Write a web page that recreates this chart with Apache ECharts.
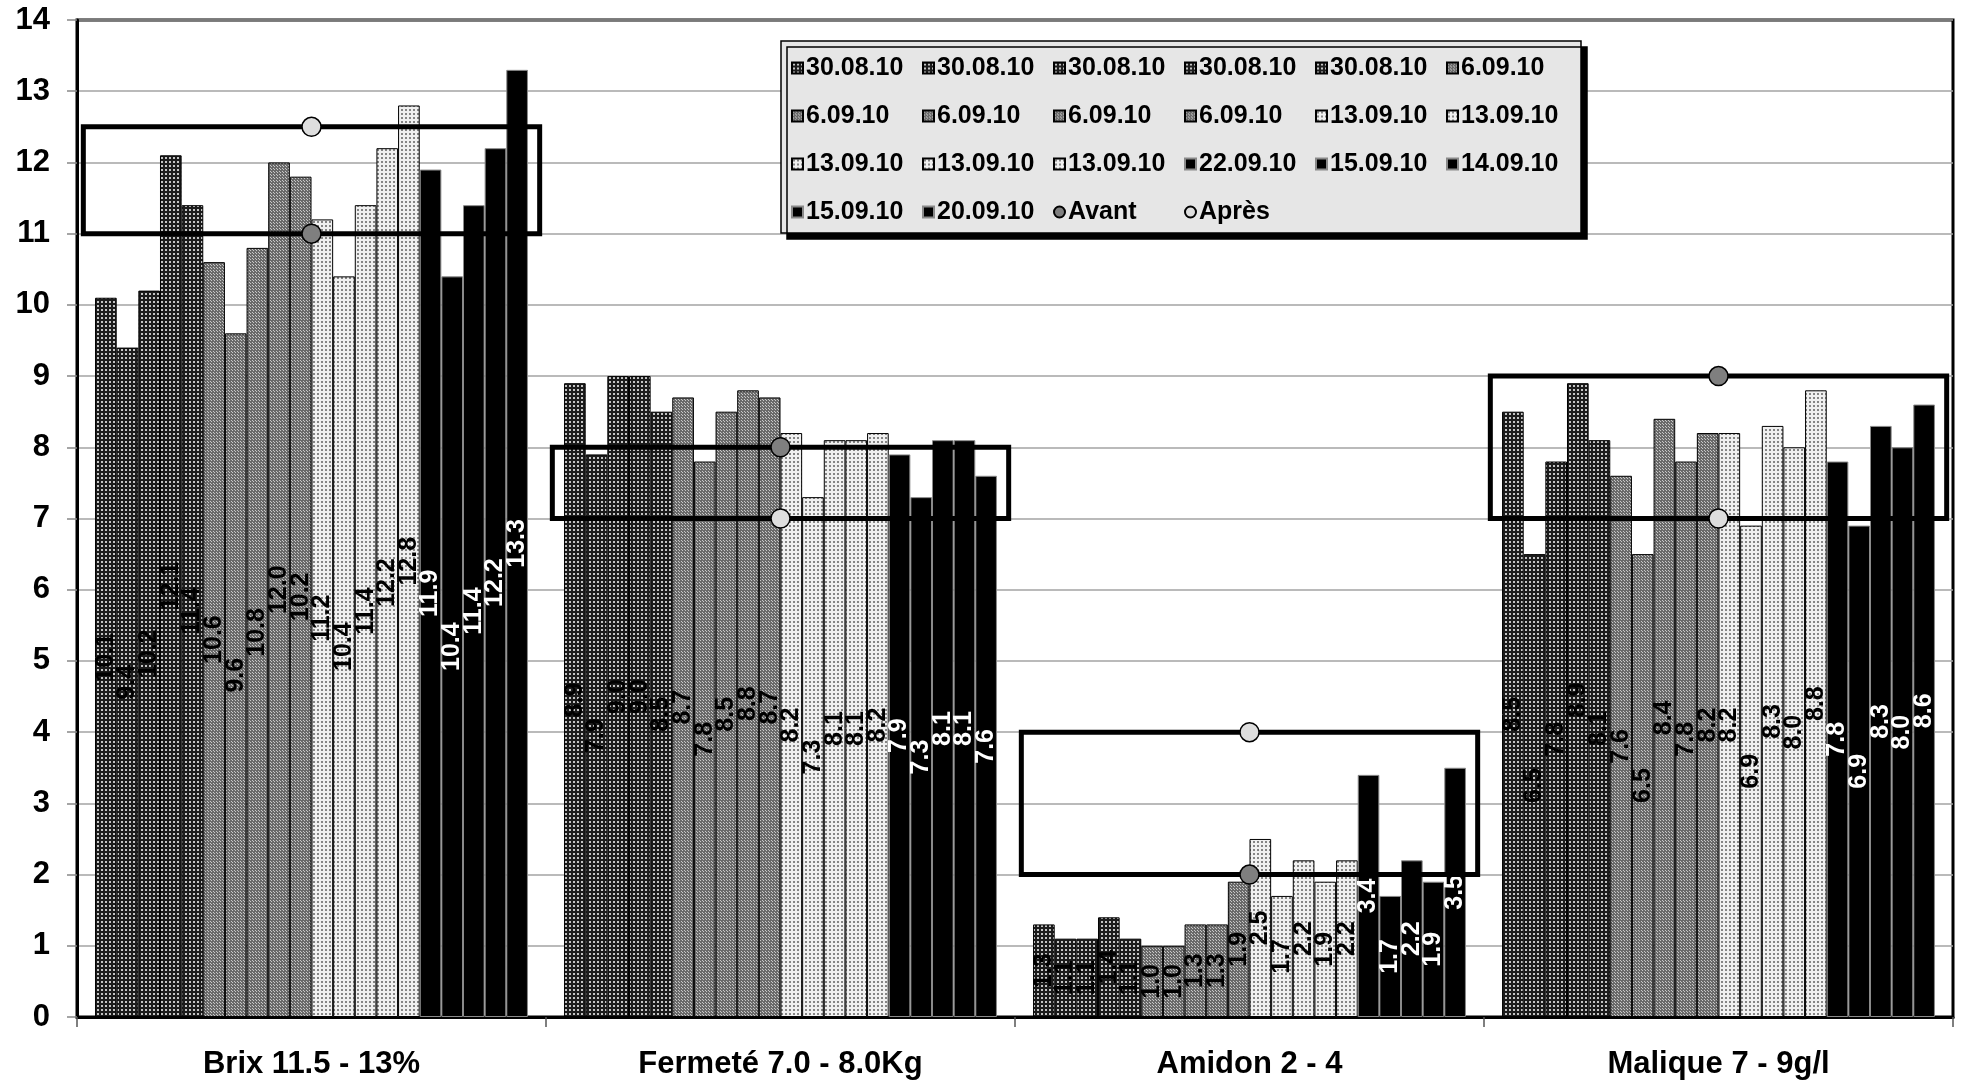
<!DOCTYPE html>
<html>
<head>
<meta charset="utf-8">
<script src="https://cdn.jsdelivr.net/npm/echarts@6/dist/echarts.min.js"></script>
<style>
html,body{margin:0;padding:0;background:#fff;}
#chart{width:1963px;height:1085px;}
</style>
</head>
<body>
<div id="chart"></div>
<script>
const categories = ['Brix 11.5 - 13%', 'Fermeté 7.0 - 8.0Kg', 'Amidon 2 - 4', 'Malique 7 - 9g/l'];
const yTicks = [0, 14, 1];

const seriesNames = [
  '30.08.10', '30.08.10', '30.08.10', '30.08.10', '30.08.10',
  '6.09.10', '6.09.10', '6.09.10', '6.09.10', '6.09.10',
  '13.09.10', '13.09.10', '13.09.10', '13.09.10', '13.09.10',
  '22.09.10', '15.09.10', '14.09.10', '15.09.10', '20.09.10'
];
// values per series: [Brix, Fermeté, Amidon, Malique]
const s01 = [10.1, 8.9, 1.3, 8.5];
const s02 = [9.4, 7.9, 1.1, 6.5];
const s03 = [10.2, 9.0, 1.1, 7.8];
const s04 = [12.1, 9.0, 1.4, 8.9];
const s05 = [11.4, 8.5, 1.1, 8.1];
const s06 = [10.6, 8.7, 1.0, 7.6];
const s07 = [9.6, 7.8, 1.0, 6.5];
const s08 = [10.8, 8.5, 1.3, 8.4];
const s09 = [12.0, 8.8, 1.3, 7.8];
const s10 = [11.8, 8.7, 1.9, 8.2];
const s11 = [11.2, 8.2, 2.5, 8.2];
const s12 = [10.4, 7.3, 1.7, 6.9];
const s13 = [11.4, 8.1, 2.2, 8.3];
const s14 = [12.2, 8.1, 1.9, 8.0];
const s15 = [12.8, 8.2, 2.2, 8.8];
const s16 = [11.9, 7.9, 3.4, 7.8];
const s17 = [10.4, 7.3, 1.7, 6.9];
const s18 = [11.4, 8.1, 2.2, 8.3];
const s19 = [12.2, 8.1, 1.9, 8.0];
const s20 = [13.3, 7.6, 3.5, 8.6];
const seriesValues = [s01,s02,s03,s04,s05,s06,s07,s08,s09,s10,s11,s12,s13,s14,s15,s16,s17,s18,s19,s20];
// data label texts that differ from the bar value in the reference (series index, category index)
const labelOverrides = [[9, 0, '10.2']];

const avant = [11, 8, 2, 9];
const apres = [12.5, 7, 4, 7];

const FONT = "'Liberation Sans', Arial, sans-serif";

function dotPattern(bg, dot, size, dotSize, off) {
  const c = document.createElement('canvas');
  c.width = size; c.height = size;
  const ctx = c.getContext('2d');
  ctx.fillStyle = bg; ctx.fillRect(0, 0, size, size);
  ctx.fillStyle = dot; ctx.fillRect(off, off, dotSize, dotSize);
  return {image: c, repeat: 'repeat'};
}
function checkerPattern(a, b) {
  const c = document.createElement('canvas');
  c.width = 3; c.height = 3;
  const ctx = c.getContext('2d');
  ctx.fillStyle = a; ctx.fillRect(0, 0, 3, 3);
  ctx.fillStyle = b; ctx.fillRect(1, 1, 1, 1); ctx.fillRect(0, 0, 1, 1);
  return {image: c, repeat: 'repeat'};
}
const fills = [
  dotPattern('#1c1c1c', '#c4c4c4', 4, 2, 1),
  checkerPattern('#6a6a6a', '#c8c8c8'),
  dotPattern('#f0f0f0', '#858585', 4, 2, 1),
  '#000000'
];

const uniq = (name, i) => name + '#' + i;

const series = seriesValues.map((vals, i) => {
  const grp = Math.floor(i / 5);
  const isBlack = grp === 3;
  const data = vals.map((v, ci) => {
    const ov = labelOverrides.find(o => o[0] === i && o[1] === ci);
    return ov ? {value: v, label: {formatter: ov[2]}} : v;
  });
  return {
    type: 'bar',
    name: uniq(seriesNames[i], i),
    data: data,
    barGap: '0%',
    barCategoryGap: '7.7%',
    z: 2,
    itemStyle: {
      color: fills[grp],
      borderColor: isBlack ? '#8a8a8a' : '#000',
      borderWidth: 1
    },
    label: {
      show: true,
      position: 'inside',
      rotate: 90,
      fontFamily: FONT,
      fontWeight: 'bold',
      fontSize: 25,
      color: isBlack ? '#fff' : '#000',
      formatter: p => Number(p.value).toFixed(1)
    },
    emphasis: {disabled: true}
  };
});

series.push({
  type: 'custom',
  name: 'ranges',
  z: 5,
  data: categories.map((c, i) => [i, Math.min(avant[i], apres[i]), Math.max(avant[i], apres[i])]),
  renderItem: function (params, api) {
    const lo = api.coord([api.value(0), api.value(1)]);
    const hi = api.coord([api.value(0), api.value(2)]);
    const bw = api.size([1, 0])[0] * 0.973;
    return {
      type: 'rect',
      shape: {x: lo[0] - bw / 2, y: hi[1], width: bw, height: lo[1] - hi[1]},
      style: {fill: 'none', stroke: '#000', lineWidth: 5}
    };
  },
  silent: true
});

series.push({
  type: 'scatter', name: 'Avant', data: avant, z: 6,
  symbol: 'circle', symbolSize: 19,
  itemStyle: {color: '#7f7f7f', borderColor: '#000', borderWidth: 1.5, opacity: 1}
});
series.push({
  type: 'scatter', name: 'Après', data: apres, z: 6,
  symbol: 'circle', symbolSize: 19,
  itemStyle: {color: '#dedede', borderColor: '#000', borderWidth: 1.5, opacity: 1}
});

const legendData = seriesNames.map((n, i) => ({name: uniq(n, i), icon: 'rect'}))
  .concat([{name: 'Avant', icon: 'circle'}, {name: 'Après', icon: 'circle'}]);

const chart = echarts.init(document.getElementById('chart'), null, {renderer: 'canvas'});
chart.setOption({
  animation: false,
  backgroundColor: '#fff',
  grid: {left: 77, right: 10, top: 20, bottom: 68, show: true, borderColor: '#000', borderWidth: 3, backgroundColor: 'transparent'},
  legend: {
    data: legendData,
    left: 781, top: 41, width: 790,
    orient: 'horizontal',
    itemWidth: 11, itemHeight: 11, itemGap: 6,
    padding: [6, 10, 0, 10],
    backgroundColor: '#e6e6e6',
    borderColor: '#000', borderWidth: 1.5,
    shadowColor: '#000', shadowBlur: 0, shadowOffsetX: 6, shadowOffsetY: 6,
    selectedMode: false,
    formatter: name => name.split('#')[0],
    textStyle: {fontFamily: FONT, fontWeight: 'bold', fontSize: 25, color: '#000', width: 110, lineHeight: 42, padding: [0, 0, 0, -2]}
  },
  xAxis: {
    type: 'category',
    data: categories,
    axisLine: {show: true, lineStyle: {color: '#000', width: 3}},
    axisTick: {show: true, length: 10, lineStyle: {color: '#555', width: 1.5}},
    axisLabel: {fontFamily: FONT, fontWeight: 'bold', fontSize: 31, color: '#000', margin: 32},
    splitLine: {show: false}
  },
  yAxis: {
    type: 'value',
    min: yTicks[0], max: yTicks[1], interval: yTicks[2],
    axisLine: {show: true, lineStyle: {color: '#000', width: 3}},
    axisTick: {show: true, length: 10, lineStyle: {color: '#888', width: 1.5}},
    axisLabel: {fontFamily: FONT, fontWeight: 'bold', fontSize: 31, color: '#000', margin: 27},
    splitLine: {show: true, lineStyle: {color: '#a3a3a3', width: 1.5}}
  },
  series: series
});
</script>
</body>
</html>
